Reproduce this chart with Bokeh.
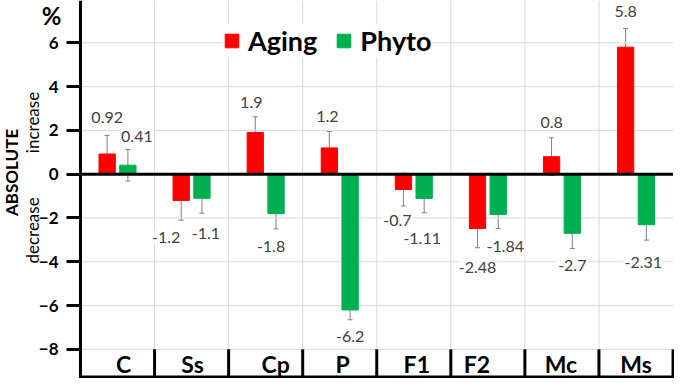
from bokeh.plotting import figure
from bokeh.models import (ColumnDataSource, Range1d, FixedTicker, Whisker,
                          TeeHead, Label, Legend, LegendItem)
from bokeh.transform import dodge
from bokeh.core.properties import value
from bokeh.embed import file_html
from bokeh.resources import INLINE
from math import pi

# ---- data ----
categories = ["C", "Ss", "Cp", "P", "F1", "F2", "Mc", "Ms"]
aging = [0.92, -1.2, 1.9, 1.2, -0.7, -2.48, 0.8, 5.8]
phyto = [0.41, -1.1, -1.8, -6.2, -1.11, -1.84, -2.7, -2.31]
aging_err = [0.85, 0.9, 0.72, 0.75, 0.75, 0.88, 0.86, 0.85]
phyto_err = [0.72, 0.68, 0.7, 0.45, 0.65, 0.64, 0.7, 0.7]
y_ticks = [-8, -6, -4, -2, 0, 2, 4, 6]

# ---- label styling (pixel nudges) ----
aging_lbl_dx = [0, -15, -4, -2, -6, 0, 0, 0]
aging_lbl_gap = [18, 17, 14, 15, 15, 20, 15, 17]
phyto_lbl_dx = [9, 4, -5, 0, -2, 7, 0, -3]
phyto_lbl_gap = [13, 20, 18, 17, 26, 18, 17, 22]
cat_lbl_dx = [6, 1, 10, 3, 3, -11, -1, 0]

RED = "#ff0000"
GREEN = "#00b050"
GRID = "#d9d9d9"
FONT = "Lato"

n = len(categories)
x_pos = [i + 0.5 for i in range(n)]          # category centres on the x scale
BAR_OFF = 0.14
BAR_W = 0.22


def series_source(vals, errs, dx, gap):
    return ColumnDataSource(dict(
        x=x_pos,
        val=vals,
        upper=[v + e for v, e in zip(vals, errs)],
        lower=[v - e for v, e in zip(vals, errs)],
        end=[v + e if v >= 0 else v - e for v, e in zip(vals, errs)],
        label=[str(v) for v in vals],
        dx=dx,
        dy=[-g if v >= 0 else g for v, g in zip(vals, gap)],
    ))


aging_src = series_source(aging, aging_err, aging_lbl_dx, aging_lbl_gap)
phyto_src = series_source(phyto, phyto_err, phyto_lbl_dx, phyto_lbl_gap)

p = figure(
    x_range=Range1d(-1.08, n + 0.02),
    y_range=Range1d(-9.33, 7.93),
    width=674, height=378,
    output_backend="svg", toolbar_location=None,
    min_border_left=0, min_border_right=0, min_border_top=0, min_border_bottom=0,
)
p.outline_line_color = None
p.background_fill_color = "white"
p.border_fill_color = "white"
p.xgrid.visible = False
p.ygrid.visible = False
p.xaxis.visible = False

# y axis drawn at the left edge of the category block
p.yaxis.fixed_location = 0
p.yaxis.ticker = FixedTicker(ticks=y_ticks)
p.yaxis.major_label_text_font = FONT
p.yaxis.major_label_text_font_style = "bold"
p.yaxis.major_label_text_font_size = "17px"
p.yaxis.major_label_text_color = "black"
p.yaxis.major_tick_out = 14
p.yaxis.major_tick_in = 0
p.yaxis.major_tick_line_width = 3
p.yaxis.major_tick_line_color = "black"
p.yaxis.minor_tick_line_color = None
p.yaxis.axis_line_width = 3
p.yaxis.axis_line_color = "black"
p.yaxis.major_label_standoff = 8

# horizontal grid lines (only over the category block)
p.segment(x0=0, x1=n, y0=y_ticks, y1=y_ticks, line_color=GRID, line_width=1)

# vertical grid lines at category boundaries
inner_src = ColumnDataSource(dict(x=x_pos[:-1]))
p.segment(x0=dodge("x", 0.5), x1=dodge("x", 0.5),
          y0=y_ticks[0], y1=p.y_range.end, source=inner_src,
          line_color=GRID, line_width=1)

# category separators in the label strip
sep_src = ColumnDataSource(dict(x=x_pos))
p.segment(x0=dodge("x", 0.5), x1=dodge("x", 0.5),
          y0=y_ticks[0], y1=p.y_range.start, source=sep_src,
          line_color="black", line_width=3)

# bottom line of the category strip
p.segment(x0=0, x1=n, y0=p.y_range.start, y1=p.y_range.start,
          line_color="black", line_width=6)

# bars
r_aging = p.vbar(x=dodge("x", -BAR_OFF), top="val", bottom=0, width=BAR_W,
                 source=aging_src, fill_color=RED, line_color=RED)
r_phyto = p.vbar(x=dodge("x", BAR_OFF), top="val", bottom=0, width=BAR_W,
                 source=phyto_src, fill_color=GREEN, line_color=GREEN)

# zero line
p.segment(x0=0, x1=n, y0=0, y1=0, line_color="black", line_width=3)

# error bars
for src, off in ((aging_src, -BAR_OFF), (phyto_src, BAR_OFF)):
    p.add_layout(Whisker(
        base=dodge("x", off), upper="upper", lower="lower", source=src,
        line_color="#7f7f7f", line_width=1,
        upper_head=TeeHead(size=5, line_color="#7f7f7f", line_width=1),
        lower_head=TeeHead(size=5, line_color="#7f7f7f", line_width=1),
    ))

# value labels
for src, off in ((aging_src, -BAR_OFF), (phyto_src, BAR_OFF)):
    p.text(x=dodge("x", off), y="end", text="label",
           x_offset="dx", y_offset="dy", source=src,
           text_font=value(FONT), text_font_size="16px", text_color="#404040",
           text_align="center", text_baseline="middle",
           background_fill_color="white", padding=1)

# category labels
cat_src = ColumnDataSource(dict(x=x_pos, cat=categories, dx=cat_lbl_dx))
p.text(x="x", y=(y_ticks[0] + p.y_range.start) / 2, text="cat", x_offset="dx",
       source=cat_src, text_font=value(FONT), text_font_style="bold",
       text_font_size="23px", text_color="black",
       text_align="center", text_baseline="middle")

# legend
legend = Legend(
    items=[LegendItem(label="Aging", renderers=[r_aging]),
           LegendItem(label="Phyto", renderers=[r_phyto])],
    orientation="horizontal", location=(223, 321),
    label_text_font=FONT, label_text_font_style="bold", label_text_font_size="27px",
    label_text_color="black",
    glyph_width=17, glyph_height=17, label_standoff=8, spacing=18,
    padding=6, margin=0, border_line_color=None,
    background_fill_color="white", background_fill_alpha=1,
)
p.add_layout(legend)

# left-side annotations (inside the frame, left of the y axis)
p.add_layout(Label(x=51, y=7.25, x_units="screen", y_units="data", text="%",
                   text_font=FONT, text_font_style="bold", text_font_size="24px",
                   text_align="center", text_baseline="middle", text_color="black"))
p.add_layout(Label(x=11, y=0.08, x_units="screen", y_units="data", text="ABSOLUTE",
                   angle=pi / 2, text_font=FONT, text_font_style="bold",
                   text_font_size="17px", text_align="center", text_baseline="middle",
                   text_color="black"))
p.add_layout(Label(x=32, y=2.36, x_units="screen", y_units="data", text="increase",
                   angle=pi / 2, text_font=FONT, text_font_size="17px",
                   text_align="center", text_baseline="middle", text_color="black"))
p.add_layout(Label(x=32, y=-2.57, x_units="screen", y_units="data", text="decrease",
                   angle=pi / 2, text_font=FONT, text_font_size="17px",
                   text_align="center", text_baseline="middle", text_color="black"))

open("out.html", "w").write(file_html(p, INLINE))
